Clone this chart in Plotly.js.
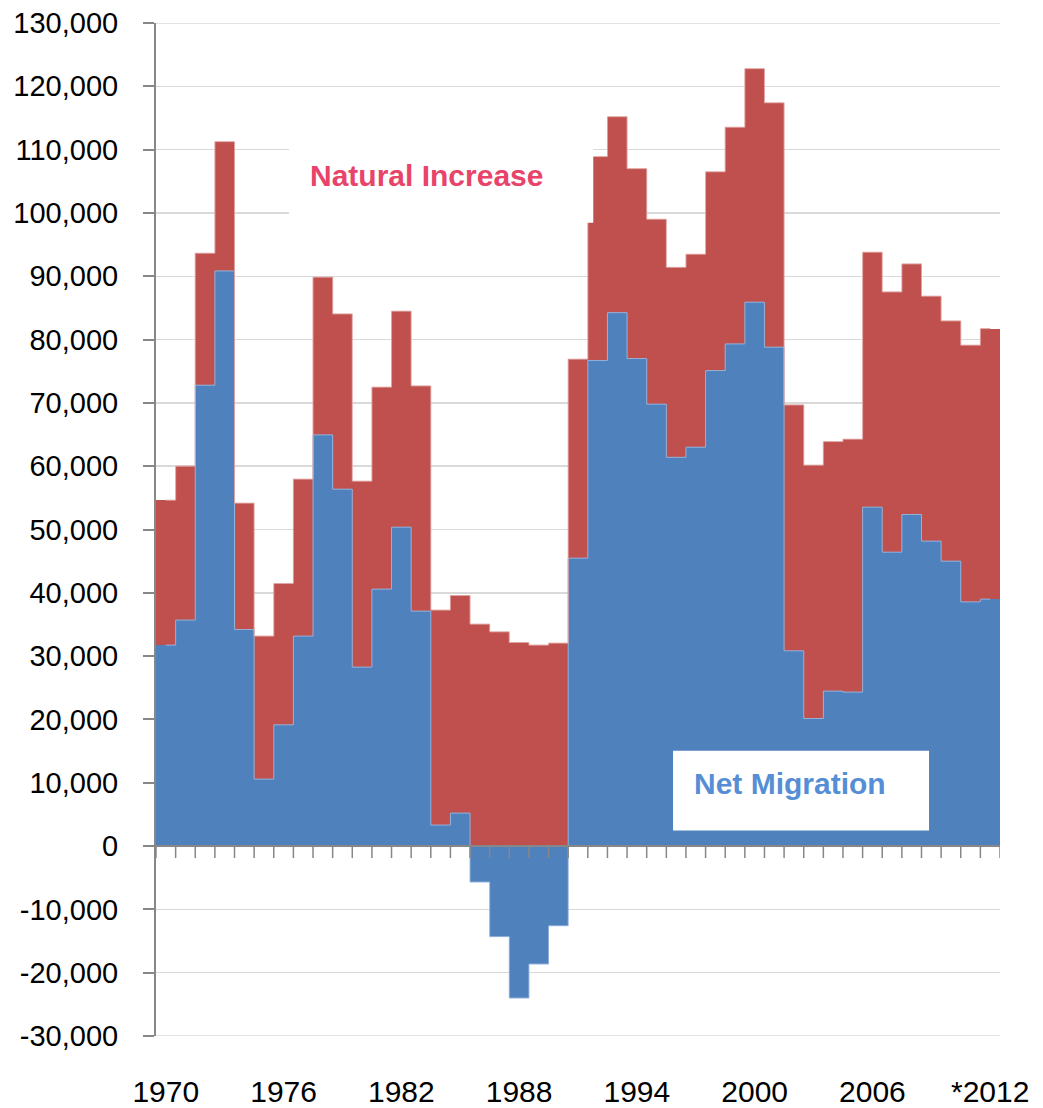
<!DOCTYPE html>
<html>
<head>
<meta charset="utf-8">
<script src="https://cdn.plot.ly/plotly-3.0.1.min.js"></script>
<style>
html,body{margin:0;padding:0;background:#fff;}
#chart{width:1043px;height:1108px;}
</style>
</head>
<body>
<div id="chart"></div>
<script>
// Years 1970 .. 2012
const years = [1970,1971,1972,1973,1974,1975,1976,1977,1978,1979,
               1980,1981,1982,1983,1984,1985,1986,1987,1988,1989,
               1990,1991,1992,1993,1994,1995,1996,1997,1998,1999,
               2000,2001,2002,2003,2004,2005,2006,2007,2008,2009,
               2010,2011,2012];

// Net migration (persons)
const netMigration = [31740,35690,72790,90840,34200,10580,19150,33160,64950,56370,
                      28260,40580,50370,37110,3320,5210,-5680,-14300,-24000,-18630,
                      -12580,45470,76700,84250,77000,69800,61400,63000,75100,79310,
                      85900,78800,30840,20150,24470,24320,53530,46420,52370,48160,
                      45000,38570,39000];

// Natural increase (persons)
const naturalIncrease = [22890,24310,20840,20420,19960,22580,22320,24790,24900,27680,
                         29370,31900,34110,35570,33950,34360,35050,33840,32150,31740,
                         32050,31430,32200,30950,30000,29200,30000,30470,31400,34220,
                         36890,38600,38840,40010,39420,39940,40260,41110,39580,38690,
                         37950,40540,42730];

// X tick labels
const tickYears = [1970,1976,1982,1988,1994,2000,2006,2012];
const tickLabels = ['1970','1976','1982','1988','1994','2000','2006','*2012'];

// Y tick labels
const yTickVals = [-30000,-20000,-10000,0,10000,20000,30000,40000,50000,60000,70000,
                   80000,90000,100000,110000,120000,130000];
const yTickLabels = ['-30,000','-20,000','-10,000','0','10,000','20,000','30,000','40,000',
                     '50,000','60,000','70,000','80,000','90,000','100,000','110,000',
                     '120,000','130,000'];

const FONT = '"Liberation Sans", Arial, sans-serif';
const AXIS = '#878787';
const GRID = '#d9d9d9';

// top edge of the stacked red columns (for the thin outline)
const stackTop = years.map((_, i) => Math.max(netMigration[i], 0) + naturalIncrease[i]);

const traces = [
  {
    type: 'bar', name: 'Net Migration', x: years, y: netMigration,
    width: 1,
    marker: {color: '#4f81bd', line: {width: 0}},
    hoverinfo: 'x+y'
  },
  {
    type: 'bar', name: 'Natural Increase', x: years, y: naturalIncrease,
    width: 1,
    marker: {color: '#c0504d', line: {width: 0}},
    hoverinfo: 'x+y'
  },
  {
    type: 'scatter', mode: 'lines', x: years, y: netMigration,
    line: {shape: 'hvh', color: '#93b3dc', width: 1}, hoverinfo: 'skip'
  },
  {
    type: 'scatter', mode: 'lines', x: years, y: stackTop,
    line: {shape: 'hvh', color: '#dfa3a1', width: 1}, hoverinfo: 'skip'
  }
];

// zero-line year ticks (at category boundaries)
const zeroFrac = 30000 / 160000;
const tickLenFrac = 12 / 1013;
const shapes = [];
const bounds = years.map(y => y - 0.5).concat([years[years.length - 1] + 0.5]);

// edge gridlines
[-30000, 130000].forEach(v => {
  shapes.push({type:'line', xref:'paper', yref:'y', x0:0, x1:1, y0:v, y1:v,
               line:{color:GRID, width:1.5}, layer:'below'});
});

// white label boxes
shapes.push({type:'rect', xref:'paper', yref:'paper', x0:0.1576, x1:0.5181, y0:0.8029, y1:0.9092,
             fillcolor:'#ffffff', line:{width:0}, layer:'above'});
shapes.push({type:'rect', xref:'paper', yref:'paper', x0:0.6126, x1:0.9159, y0:0.2029, y1:0.2816,
             fillcolor:'#ffffff', line:{width:0}, layer:'above'});

// zero axis line
shapes.push({type:'line', xref:'paper', yref:'paper', x0:0, x1:1, y0:zeroFrac, y1:zeroFrac,
             line:{color:AXIS, width:2}, layer:'above'});
bounds.forEach(b => {
  shapes.push({type:'line', xref:'x', yref:'paper', x0:b, x1:b, y0:zeroFrac, y1:zeroFrac - tickLenFrac,
               line:{color:AXIS, width:1.5}, layer:'above'});
});

const layout = {
  width: 1043, height: 1108,
  margin: {l:156, r:43, t:23, b:72, pad:0},
  paper_bgcolor: '#ffffff', plot_bgcolor: '#ffffff',
  barmode: 'relative', bargap: 0,
  showlegend: false,
  font: {family: FONT, color: '#000000'},
  xaxis: {
    range: [1969.5, 2012.5],
    tickmode: 'array', tickvals: tickYears, ticktext: tickLabels,
    ticks: '', showgrid: false, showline: false, zeroline: false,
    tickfont: {family: FONT, size: 30, color: '#000000'},
    ticklabelstandoff: 35,
    fixedrange: true
  },
  yaxis: {
    range: [-30000, 130000],
    tickmode: 'array', tickvals: yTickVals, ticktext: yTickLabels,
    ticks: 'outside', ticklen: 11, tickwidth: 2, tickcolor: AXIS,
    showline: true, linecolor: AXIS, linewidth: 2,
    showgrid: true, gridcolor: GRID, gridwidth: 1.5,
    zeroline: false,
    tickfont: {family: FONT, size: 29, color: '#000000'},
    ticklabelstandoff: 19,
    fixedrange: true
  },
  shapes: shapes,
  annotations: [
    {text: '<b>Natural Increase</b>', xref:'paper', yref:'paper', x:0.3205, y:0.849,
     xanchor:'center', yanchor:'middle', showarrow:false,
     font:{family: FONT, size: 30, color:'#e8446a'}},
    {text: '<b>Net Migration</b>', xref:'paper', yref:'paper', x:0.7508, y:0.2493,
     xanchor:'center', yanchor:'middle', showarrow:false,
     font:{family: FONT, size: 30, color:'#558ed5'}}
  ]
};

Plotly.newPlot('chart', traces, layout, {displayModeBar: false, staticPlot: true});
</script>
</body>
</html>
